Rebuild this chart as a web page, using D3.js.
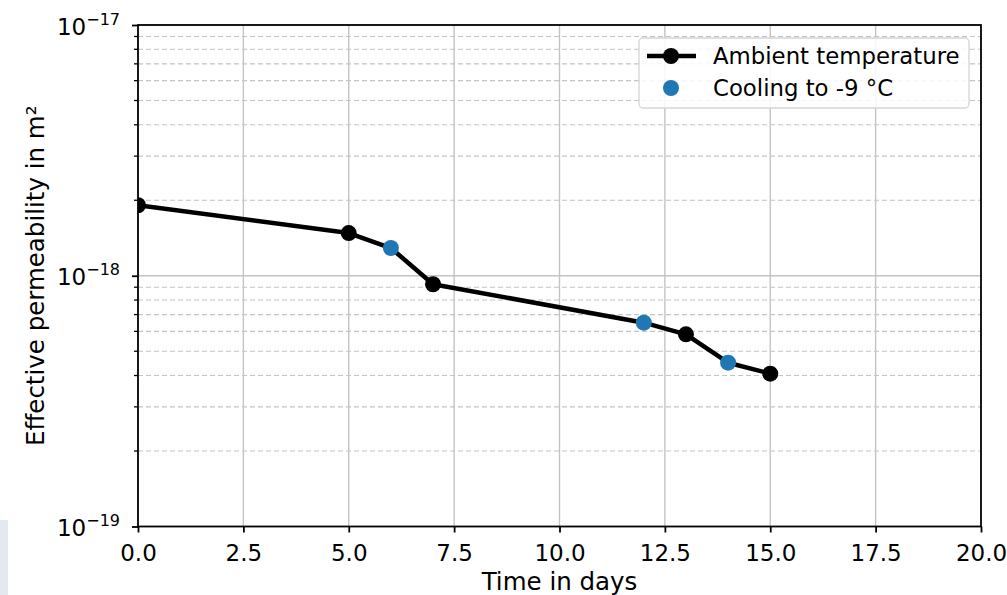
<!DOCTYPE html>
<html>
<head>
<meta charset="utf-8">
<script src="https://cdn.jsdelivr.net/npm/d3@7"></script>
<style>
  html, body { margin: 0; padding: 0; background: #ffffff; }
  svg { display: block; font-family: "DejaVu Sans", sans-serif; }
</style>
</head>
<body>
<svg id="chart" width="1007" height="595"></svg>
<script>
// Permeability measurements (m²) over time (days)
const ambientDays = [0, 5, 7, 13, 15];
const ambientPerm = [1.91e-18, 1.48e-18, 9.25e-19, 5.84e-19, 4.07e-19];
const coolingDays = [6, 12, 14];
const coolingPerm = [1.29e-18, 6.5e-19, 4.5e-19];

const xTicks = [0, 2.5, 5, 7.5, 10, 12.5, 15, 17.5, 20];
const yMajorExp = [-19, -18, -17];
const legendLabels = ["Ambient temperature", "Cooling to -9 °C"];
const xLabel = "Time in days";
const yLabel = "Effective permeability in m²";

const svg = d3.select("#chart");
const plotL = 138, plotR = 981, plotT = 25, plotB = 526.5;

const x = d3.scaleLinear().domain([0, 20]).range([plotL, plotR]);
const y = d3.scaleLog().domain([1e-19, 1e-17]).range([plotB, plotT]);

// small corner panel at the lower left edge
svg.append("rect").attr("x", 0).attr("y", 520).attr("width", 8).attr("height", 75).attr("fill", "#e4e9ef");

// minor log ticks: 2..9 × each decade
const minorVals = [];
[-19, -18].forEach(e => { for (let m = 2; m <= 9; m++) minorVals.push(m * Math.pow(10, e)); });

const grid = svg.append("g");
grid.selectAll("line.ymin").data(minorVals).join("line")
  .attr("x1", plotL).attr("x2", plotR)
  .attr("y1", d => y(d)).attr("y2", d => y(d))
  .attr("stroke", "#c4c4c4").attr("stroke-width", 1.1).attr("stroke-dasharray", "5,3");
grid.selectAll("line.ymaj").data([1e-18]).join("line")
  .attr("x1", plotL).attr("x2", plotR)
  .attr("y1", d => y(d)).attr("y2", d => y(d))
  .attr("stroke", "#c4c4c4").attr("stroke-width", 1.4);
grid.selectAll("line.xg").data(xTicks.slice(1, -1)).join("line")
  .attr("x1", d => x(d)).attr("x2", d => x(d))
  .attr("y1", plotT).attr("y2", plotB)
  .attr("stroke", "#c4c4c4").attr("stroke-width", 1.4);

// data, clipped to the axes area
svg.append("clipPath").attr("id", "plotclip").append("rect")
  .attr("x", plotL).attr("y", plotT).attr("width", plotR - plotL).attr("height", plotB - plotT);
const plot = svg.append("g").attr("clip-path", "url(#plotclip)");

const ambient = ambientDays.map((d, i) => ({ t: d, k: ambientPerm[i] }));
const cooling = coolingDays.map((d, i) => ({ t: d, k: coolingPerm[i] }));
const allPts = ambient.concat(cooling).sort((a, b) => a.t - b.t);

plot.append("path").datum(allPts)
  .attr("d", d3.line().x(d => x(d.t)).y(d => y(d.k)))
  .attr("fill", "none").attr("stroke", "#000").attr("stroke-width", 4.5).attr("stroke-linejoin", "round");
plot.selectAll("circle.amb").data(ambient).join("circle")
  .attr("cx", d => x(d.t)).attr("cy", d => y(d.k)).attr("r", 8).attr("fill", "#000");
plot.selectAll("circle.cool").data(cooling).join("circle")
  .attr("cx", d => x(d.t)).attr("cy", d => y(d.k)).attr("r", 8).attr("fill", "#1f77b4");

// axes frame
svg.append("rect").attr("x", plotL).attr("y", plotT).attr("width", plotR - plotL).attr("height", plotB - plotT)
  .attr("fill", "none").attr("stroke", "#000").attr("stroke-width", 1.8);

// x axis ticks and labels
const xAxis = svg.append("g").attr("transform", `translate(0,${plotB})`)
  .call(d3.axisBottom(x).tickValues(xTicks).tickFormat(d3.format(".1f")).tickSize(6).tickPadding(4));
xAxis.select(".domain").remove();
xAxis.selectAll(".tick line").attr("stroke", "#000").attr("stroke-width", 1.8);
xAxis.selectAll(".tick text").attr("font-size", "23px").attr("font-family", "DejaVu Sans").attr("fill", "#000")
  .attr("dy", null).attr("y", 34);

// y axis major ticks with superscript exponent labels
const yAxis = svg.append("g").attr("transform", `translate(${plotL},0)`)
  .call(d3.axisLeft(y).tickValues(yMajorExp.map(e => Math.pow(10, e))).tickFormat("").tickSize(6));
yAxis.select(".domain").remove();
yAxis.selectAll(".tick line").attr("stroke", "#000").attr("stroke-width", 1.8);
yAxis.selectAll(".tick").each(function (d) {
  const e = Math.round(Math.log10(d));
  const t = d3.select(this).append("text")
    .attr("x", -18).attr("y", 9).attr("text-anchor", "end")
    .attr("font-size", "23px").attr("fill", "#000").attr("font-family", "DejaVu Sans");
  t.append("tspan").text("10");
  t.append("tspan").attr("dy", -10).attr("font-size", "16px").text("\u2212" + Math.abs(e));
});
// y minor ticks
svg.append("g").selectAll("line").data(minorVals).join("line")
  .attr("x1", plotL - 4).attr("x2", plotL)
  .attr("y1", d => y(d)).attr("y2", d => y(d))
  .attr("stroke", "#000").attr("stroke-width", 1.3);

// axis titles
svg.append("text").attr("x", (plotL + plotR) / 2).attr("y", 590).attr("text-anchor", "middle")
  .attr("font-size", "24.5px").attr("fill", "#000").text(xLabel);
svg.append("text").attr("transform", `translate(44,${(plotT + plotB) / 2}) rotate(-90)`)
  .attr("text-anchor", "middle").attr("font-size", "24.5px").attr("fill", "#000").text(yLabel);

// legend
const lg = svg.append("g");
lg.append("rect").attr("x", 639).attr("y", 38).attr("width", 330).attr("height", 70).attr("rx", 4)
  .attr("fill", "#fff").attr("fill-opacity", 0.85).attr("stroke", "#d5d5d5").attr("stroke-width", 1.3);
lg.append("line").attr("x1", 647).attr("x2", 696).attr("y1", 56).attr("y2", 56)
  .attr("stroke", "#000").attr("stroke-width", 4.5);
lg.append("circle").attr("cx", 671).attr("cy", 56).attr("r", 8).attr("fill", "#000");
lg.append("circle").attr("cx", 671).attr("cy", 88).attr("r", 8).attr("fill", "#1f77b4");
lg.selectAll("text").data(legendLabels).join("text")
  .attr("x", 713).attr("y", (d, i) => 64 + i * 32)
  .attr("font-size", "22.8px").attr("fill", "#000").text(d => d);
</script>
</body>
</html>
